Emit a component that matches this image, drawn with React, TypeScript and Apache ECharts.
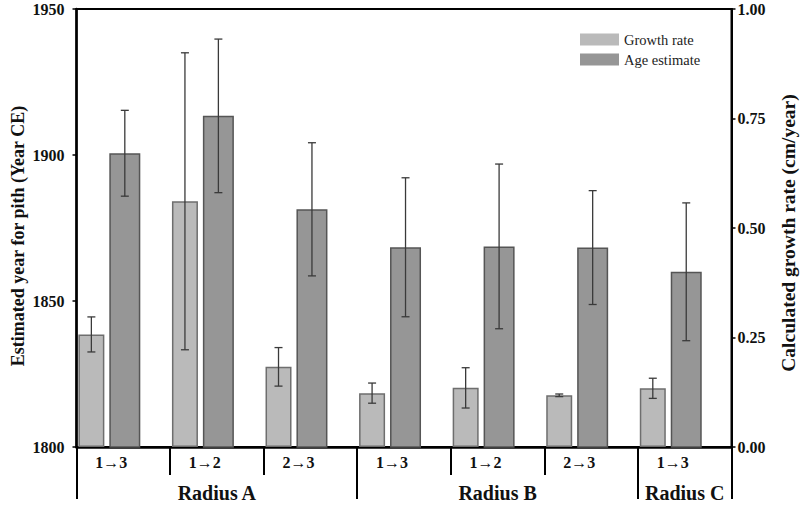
import React, { useEffect, useRef } from "react";
import * as echarts from "echarts";

const categories = ["1→3", "1→2", "2→3", "1→3", "1→2", "2→3", "1→3"];
const groups = ["", "Radius A", "", "", "Radius B", "", "Radius C"];
const groupStarts = [0, 3, 6];
const growthRate = [0.257, 0.561, 0.183, 0.123, 0.135, 0.118, 0.134];
const growthRateErr = [0.04, 0.339, 0.044, 0.023, 0.046, 0.003, 0.023];
const ageEstimate = [1900.6, 1913.4, 1881.4, 1868.4, 1868.7, 1868.3, 1860.0];
const ageEstimateErr = [14.7, 26.3, 22.8, 23.8, 28.2, 19.5, 23.6];
const leftTicks = { min: 1800, max: 1950, interval: 50 };
const rightTicks = { min: 0, max: 1, interval: 0.25 };

const FONT = "Liberation Serif, serif";
const LIGHT_W = 26;
const DARK_W = 31;
const GAP = 0.19;
const SPACER_W = 22;
const TOTAL_W = LIGHT_W * (1 + GAP) + DARK_W * (1 + GAP) + SPACER_W;
const LIGHT_OFF = -TOTAL_W / 2 + LIGHT_W / 2;
const DARK_OFF = -TOTAL_W / 2 + LIGHT_W * (1 + GAP) + DARK_W / 2;

function errorSeries(name: string, vals: number[], errs: number[], yIdx: number, off: number) {
  return {
    type: "custom",
    name,
    xAxisIndex: 0,
    yAxisIndex: yIdx,
    z: 5,
    silent: true,
    data: vals.map((v, i) => [i, v - errs[i], v + errs[i]]),
    renderItem: (params: any, api: any) => {
      const i = api.value(0);
      const p1 = api.coord([i, api.value(1)]);
      const p2 = api.coord([i, api.value(2)]);
      const x = p1[0] + off;
      const style = { stroke: "#3a3a3a", lineWidth: 1.3 };
      return {
        type: "group",
        children: [
          { type: "line", shape: { x1: x, y1: p1[1], x2: x, y2: p2[1] }, style },
          { type: "line", shape: { x1: x - 4, y1: p1[1], x2: x + 4, y2: p1[1] }, style },
          { type: "line", shape: { x1: x - 4, y1: p2[1], x2: x + 4, y2: p2[1] }, style },
        ],
      };
    },
  };
}

export default function App() {
  const ref = useRef<HTMLDivElement>(null);
  useEffect(() => {
    if (!ref.current) return;
    const chart = echarts.init(ref.current, null, { renderer: "svg" });
    const axisLabelStyle = { fontFamily: FONT, fontWeight: "bold", fontSize: 16, color: "#111" };
    chart.setOption({
      animation: false,
      backgroundColor: "#fff",
      grid: {
        left: 76.5,
        right: 68.5,
        top: 9,
        bottom: 60,
        show: true,
        borderColor: "#000",
        borderWidth: 2,
        containLabel: false,
        outerBoundsMode: "none",
      },
      legend: {
        data: ["Growth rate", "Age estimate"],
        orient: "vertical",
        left: 575,
        top: 27,
        itemWidth: 39,
        itemHeight: 12,
        itemGap: 5,
        icon: "rect",
        itemStyle: { borderWidth: 0 },
        textStyle: { fontFamily: FONT, fontSize: 14.5, color: "#222" },
      },
      xAxis: [
        {
          type: "category",
          data: categories,
          position: "bottom",
          axisLine: { show: true, lineStyle: { color: "#000", width: 2.5 } },
          axisTick: { show: true, interval: 0, length: 28, lineStyle: { color: "#000", width: 2 } },
          axisLabel: { ...axisLabelStyle, interval: 0, margin: 7, padding: [0, 24, 0, 0] },
        },
        {
          type: "category",
          data: groups,
          position: "bottom",
          axisLine: { show: false },
          axisTick: {
            show: true,
            interval: (idx: number) => groupStarts.includes(idx),
            length: 52,
            lineStyle: { color: "#000", width: 2 },
          },
          axisLabel: { ...axisLabelStyle, fontSize: 20, interval: 0, margin: 36 },
        },
      ],
      yAxis: [
        {
          type: "value",
          ...leftTicks,
          name: "Estimated year for pith (Year CE)",
          nameLocation: "middle",
          nameGap: 50,
          nameMoveOverlap: false,
          nameTextStyle: {
            fontFamily: FONT,
            fontWeight: "bold",
            fontSize: 18,
            color: "#111",
            padding: [0, 16, 0, 0],
          },
          axisLine: { show: true, lineStyle: { color: "#000", width: 2.5 } },
          axisTick: { show: true, length: 4, lineStyle: { color: "#000", width: 1.5 } },
          axisLabel: { ...axisLabelStyle, margin: 12, formatter: (v: number) => String(v) },
          splitLine: { show: false },
        },
        {
          type: "value",
          ...rightTicks,
          position: "right",
          name: "Calculated growth rate (cm/year)",
          nameLocation: "middle",
          nameGap: 47,
          nameMoveOverlap: false,
          nameRotate: 90,
          nameTextStyle: {
            fontFamily: FONT,
            fontWeight: "bold",
            fontSize: 19.5,
            color: "#111",
            padding: [0, 10, 0, 0],
          },
          axisLine: { show: true, lineStyle: { color: "#000", width: 2 } },
          axisTick: { show: true, length: 4, lineStyle: { color: "#000", width: 1.5 } },
          axisLabel: { ...axisLabelStyle, margin: 6, formatter: (v: number) => v.toFixed(2) },
          splitLine: { show: false },
        },
      ],
      series: [
        {
          type: "bar",
          name: "Growth rate",
          xAxisIndex: 0,
          yAxisIndex: 1,
          barWidth: LIGHT_W,
          barGap: GAP * 100 + "%",
          data: growthRate,
          itemStyle: { color: "#bababa", borderColor: "#6e6e6e", borderWidth: 1.5 },
        },
        {
          type: "bar",
          name: "Age estimate",
          xAxisIndex: 0,
          yAxisIndex: 0,
          barWidth: DARK_W,
          barGap: GAP * 100 + "%",
          data: ageEstimate,
          itemStyle: { color: "#969696", borderColor: "#555", borderWidth: 1.5 },
        },
        {
          type: "bar",
          name: "spacer",
          xAxisIndex: 0,
          yAxisIndex: 0,
          barWidth: SPACER_W,
          barGap: GAP * 100 + "%",
          silent: true,
          data: categories.map(() => null),
          itemStyle: { color: "transparent" },
        },
        errorSeries("Growth rate err", growthRate, growthRateErr, 1, LIGHT_OFF),
        errorSeries("Age estimate err", ageEstimate, ageEstimateErr, 0, DARK_OFF),
      ],
    });
    return () => chart.dispose();
  }, []);
  return (
    <div
      ref={ref}
      style={{ position: "fixed", left: 0, top: 0, width: 800, height: 507, background: "#fff" }}
    />
  );
}
